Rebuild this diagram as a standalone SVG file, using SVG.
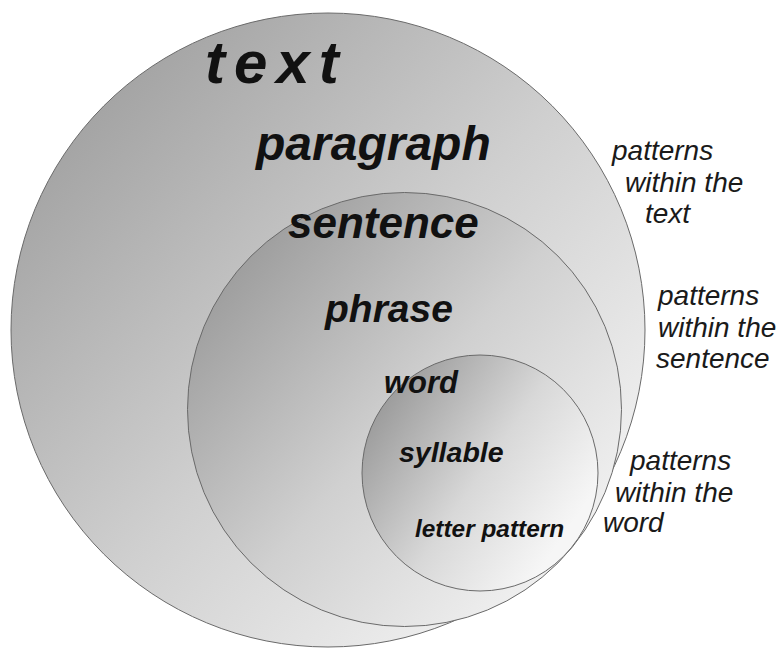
<svg xmlns="http://www.w3.org/2000/svg" width="778" height="648" viewBox="0 0 778 648">
  <defs>
    <linearGradient id="gOuter" x1="0.1" y1="0.15" x2="0.9" y2="0.9">
      <stop offset="0" stop-color="#a2a2a2"/>
      <stop offset="0.5" stop-color="#cfcfcf"/>
      <stop offset="1" stop-color="#f5f5f5"/>
    </linearGradient>
    <linearGradient id="gMiddle" x1="0.1" y1="0.15" x2="0.9" y2="0.85">
      <stop offset="0" stop-color="#9c9c9c"/>
      <stop offset="0.5" stop-color="#d0d0d0"/>
      <stop offset="1" stop-color="#f2f2f2"/>
    </linearGradient>
    <linearGradient id="gInner" x1="0.1" y1="0.15" x2="0.9" y2="0.7">
      <stop offset="0" stop-color="#9a9a9a"/>
      <stop offset="0.55" stop-color="#d8d8d8"/>
      <stop offset="1" stop-color="#f6f6f6"/>
    </linearGradient>
    <style>
      .ring { stroke: #6a6a6a; stroke-width: 1; }
      .lvl { font-family: "Liberation Sans", Arial, sans-serif; font-weight: bold; font-style: italic; fill: #111; }
      .note { font-family: "Liberation Sans", Arial, sans-serif; font-style: italic; font-size: 28px; fill: #1a1a1a; }
    </style>
  </defs>

  <rect width="778" height="648" fill="#ffffff"/>

  <g id="text-level">
    <circle class="ring" cx="328" cy="330" r="317" fill="url(#gOuter)"/>
    <text class="lvl" x="205" y="83" font-size="60" letter-spacing="9">text</text>
    <text class="lvl" x="256" y="160" font-size="48">paragraph</text>
  </g>

  <g id="sentence-level">
    <circle class="ring" cx="404.5" cy="409.5" r="217" fill="url(#gMiddle)"/>
    <text class="lvl" x="288" y="238" font-size="44">sentence</text>
    <text class="lvl" x="325" y="322" font-size="39">phrase</text>
  </g>

  <g id="word-level">
    <circle class="ring" cx="480" cy="473" r="118" fill="url(#gInner)"/>
    <text class="lvl" x="384" y="393" font-size="31">word</text>
    <text class="lvl" x="399" y="462" font-size="28.5">syllable</text>
    <text class="lvl" x="415" y="537" font-size="24.4">letter pattern</text>
  </g>

  <g id="notes">
    <text class="note" x="612" y="160">patterns</text>
    <text class="note" x="625" y="192">within the</text>
    <text class="note" x="645" y="223">text</text>

    <text class="note" x="658" y="305">patterns</text>
    <text class="note" x="658" y="337">within the</text>
    <text class="note" x="656" y="368">sentence</text>

    <text class="note" x="630" y="470">patterns</text>
    <text class="note" x="615" y="502">within the</text>
    <text class="note" x="603" y="532">word</text>
  </g>

  <g id="connectors"/>
</svg>
